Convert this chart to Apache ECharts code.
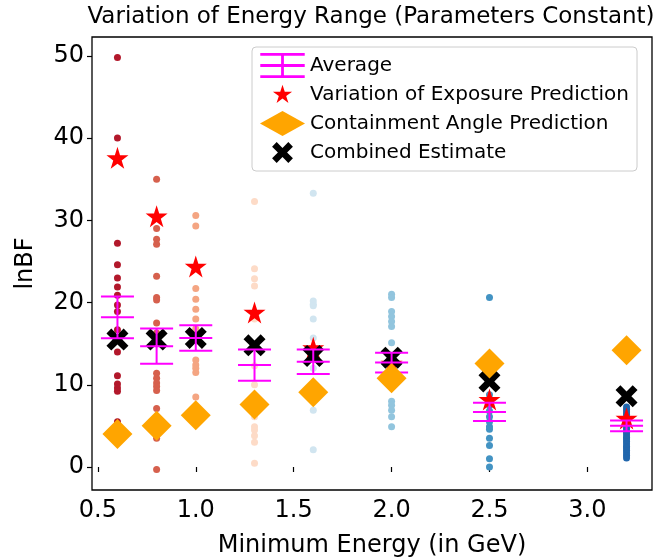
<!DOCTYPE html>
<html><head><meta charset="utf-8">
<script src="https://cdn.jsdelivr.net/npm/echarts@6/dist/echarts.min.js"></script>
<style>html,body{margin:0;padding:0;background:#fff}#c{width:667px;height:558px}</style>
</head><body><div id="c"></div>
<script>
const energies = [0.6, 0.8, 1.0, 1.3, 1.6, 2.0, 2.5, 3.2];
const pts_0_6 = [49.8, 40.0, 27.2, 24.6, 23.0, 21.9, 20.9, 19.7, 18.9, 16.7, 15.6, 14.0, 11.1, 10.1, 9.6, 9.2, 5.5];
const pts_0_8 = [35.0, 30.4, 29.0, 27.7, 27.1, 23.2, 20.6, 20.3, 17.5, 16.3, 15.2, 11.4, 10.8, 10.2, 9.8, 9.3, 7.1, 5.0, 3.5, -0.3];
const pts_1_0 = [30.6, 29.3, 21.7, 20.4, 19.2, 18.0, 16.8, 15.5, 13.0, 12.4, 12.0, 11.5, 8.5, 6.3];
const pts_1_3 = [32.3, 24.1, 22.9, 22.0, 18.0, 14.5, 12.3, 10.0, 7.5, 6.1, 4.9, 4.5, 3.8, 3.0, 0.45];
const pts_1_6 = [33.3, 20.2, 19.8, 19.6, 18.0, 15.7, 13.2, 12.0, 9.0, 6.9, 2.1];
const pts_2_0 = [21.0, 20.6, 18.9, 18.3, 17.7, 17.1, 15.1, 13.5, 12.0, 10.5, 8.0, 7.5, 6.9, 6.1, 4.9];
const pts_2_5 = [20.6, 8.8, 7.5, 6.8, 6.1, 5.5, 4.9, 4.6, 3.5, 2.6, 1.0, 0.0];
const pts_3_2 = [7.3, 7.0, 6.7, 6.4, 6.1, 5.8, 5.5, 5.3, 5.0, 4.7, 4.4, 4.2, 3.9, 3.6, 3.4, 3.1, 2.8, 2.5, 2.3, 2.0, 1.7, 1.4, 1.1];
const pointSets = [pts_0_6, pts_0_8, pts_1_0, pts_1_3, pts_1_6, pts_2_0, pts_2_5, pts_3_2];
const pointColors = ['#b2182b', '#d6604d', '#f4a582', '#fddbc7', '#d1e5f0', '#92c5de', '#4393c3', '#2166ac'];

const avgMean = [18.2, 14.7, 15.7, 12.4, 12.8, 12.7, 6.7, 5.0];
const avgErr  = [2.55, 2.15, 1.55, 1.9, 1.5, 1.2, 1.1, 0.65];
const exposurePred = [37.6, 30.5, 24.4, 18.8, 14.5, 12.6, 8.2, 5.9];
const containmentPred = [4.0, 5.0, 6.3, 7.6, 9.1, 10.8, 12.6, 14.2];
const combinedEst = [15.5, 15.5, 15.7, 14.8, 13.5, 13.3, 10.4, 8.6];

const xTicks = [0.5, 1.0, 1.5, 2.0, 2.5, 3.0];
const yTicks = [0, 10, 20, 30, 40, 50];

const FONT = 'DejaVu Sans';
const STAR = 'path://M50,2 L61.2,36.2 L97.6,36.2 L68.2,57.4 L79.4,91.6 L50,70.4 L20.6,91.6 L31.8,57.4 L2.4,36.2 L38.8,36.2 Z';
const STAR_LEG = 'path://M-12,-12 M112,112 M50,2 L61.2,36.2 L97.6,36.2 L68.2,57.4 L79.4,91.6 L50,70.4 L20.6,91.6 L31.8,57.4 L2.4,36.2 L38.8,36.2 Z';
const XMARK = 'path://M22,0 L50,28 L78,0 L100,22 L72,50 L100,78 L78,100 L50,72 L22,100 L0,78 L28,50 L0,22 Z';
const XMARK_LEG = 'path://M-10,-10 M110,110 M22,0 L50,28 L78,0 L100,22 L72,50 L100,78 L78,100 L50,72 L22,100 L0,78 L28,50 L0,22 Z';
const AVG_ICON = 'path://M0,0 H32 V2 H0 Z M0,8 H32 V10 H0 Z M0,16 H32 V18 H0 Z M15,0 H17 V18 H15 Z';

const chart = echarts.init(document.getElementById('c'), null, {renderer: 'canvas'});

const series = [];
pointSets.forEach((arr, i) => {
  series.push({
    type: 'scatter', name: 'pts' + energies[i], symbol: 'circle', symbolSize: 7,
    itemStyle: {color: pointColors[i], opacity: 1}, z: 1, silent: true,
    data: arr.map(v => [energies[i], v])
  });
});
series.push({
  type: 'scatter', name: 'Variation of Exposure Prediction', symbol: STAR, symbolSize: 22,
  itemStyle: {color: '#ff0000', opacity: 1}, z: 2,
  data: energies.map((e, i) => [e, exposurePred[i]])
});
series.push({
  type: 'scatter', name: 'Combined Estimate', symbol: XMARK, symbolSize: 22,
  itemStyle: {color: '#000000', opacity: 1}, z: 3,
  data: energies.map((e, i) => [e, combinedEst[i]])
});
series.push({
  type: 'custom', name: 'Average', z: 4,
  itemStyle: {color: '#ff00ff'},
  data: energies.map((e, i) => [e, avgMean[i], avgErr[i]]),
  encode: {x: 0, y: 1},
  renderItem: function (params, api) {
    const x = api.value(0), m = api.value(1), err = api.value(2);
    const pm = api.coord([x, m]);
    const pt = api.coord([x, m + err]);
    const pb = api.coord([x, m - err]);
    const hw = 16.5;
    const st = {stroke: '#ff00ff', lineWidth: 2};
    return {type: 'group', children: [
      {type: 'line', shape: {x1: pt[0], y1: pt[1], x2: pb[0], y2: pb[1]}, style: st},
      {type: 'line', shape: {x1: pt[0] - hw, y1: pt[1], x2: pt[0] + hw, y2: pt[1]}, style: st},
      {type: 'line', shape: {x1: pb[0] - hw, y1: pb[1], x2: pb[0] + hw, y2: pb[1]}, style: st},
      {type: 'line', shape: {x1: pm[0] - hw, y1: pm[1], x2: pm[0] + hw, y2: pm[1]}, style: st}
    ]};
  }
});
series.push({
  type: 'scatter', name: 'Containment Angle Prediction', symbol: 'diamond', symbolSize: 30,
  itemStyle: {color: '#ffa500', opacity: 1}, z: 5,
  data: energies.map((e, i) => [e, containmentPred[i]])
});

chart.setOption({
  animation: false,
  backgroundColor: '#ffffff',
  textStyle: {fontFamily: FONT},
  graphic: [{
    type: 'text', x: 371, y: 6, z: 100,
    style: {text: 'Variation of Energy Range (Parameters Constant)', textAlign: 'center', textVerticalAlign: 'top',
      font: '23px "DejaVu Sans"', fill: '#000'}
  }],
  grid: {left: 92, right: 15, top: 37, bottom: 68, show: true, borderColor: '#000', borderWidth: 1.3,
    backgroundColor: 'transparent', outerBoundsMode: 'none', containLabel: false},
  legend: {
    orient: 'vertical', left: 252, top: 47,
    padding: [6, 8, 6, 8], itemGap: 4, itemWidth: 45, itemHeight: 25,
    backgroundColor: 'rgba(255,255,255,0.8)', borderColor: '#cccccc', borderWidth: 1, borderRadius: 4,
    textStyle: {fontFamily: FONT, fontSize: 20, color: '#000'},
    data: [
      {name: 'Average', icon: AVG_ICON, itemStyle: {color: '#ff00ff'}},
      {name: 'Variation of Exposure Prediction', icon: STAR_LEG},
      {name: 'Containment Angle Prediction', icon: 'diamond'},
      {name: 'Combined Estimate', icon: XMARK_LEG}
    ],
    selectedMode: false, z: 50
  },
  xAxis: {
    type: 'value', min: 0.47, max: 3.33,
    name: 'Minimum Energy (in GeV)', nameLocation: 'middle', nameGap: 44,
    nameTextStyle: {fontFamily: FONT, fontSize: 24, color: '#000'},
    axisLine: {show: false},
    axisTick: {show: true, length: 5, inside: false, customValues: xTicks, lineStyle: {color: '#000', width: 1.2}},
    axisLabel: {customValues: xTicks, fontFamily: FONT, fontSize: 24, color: '#000', margin: 9,
      formatter: v => Number(v).toFixed(1)},
    splitLine: {show: false}
  },
  yAxis: {
    type: 'value', min: -2.8, max: 52.3,
    name: 'lnBF', nameLocation: 'middle', nameGap: 54, nameRotate: 90,
    nameTextStyle: {fontFamily: FONT, fontSize: 24, color: '#000'},
    axisLine: {show: false},
    axisTick: {show: true, length: 5, inside: false, customValues: yTicks, lineStyle: {color: '#000', width: 1.2}},
    axisLabel: {customValues: yTicks, fontFamily: FONT, fontSize: 24, color: '#000', margin: 8,
      formatter: v => String(Math.round(v))},
    splitLine: {show: false}
  },
  series: series
});
</script>
</body></html>
